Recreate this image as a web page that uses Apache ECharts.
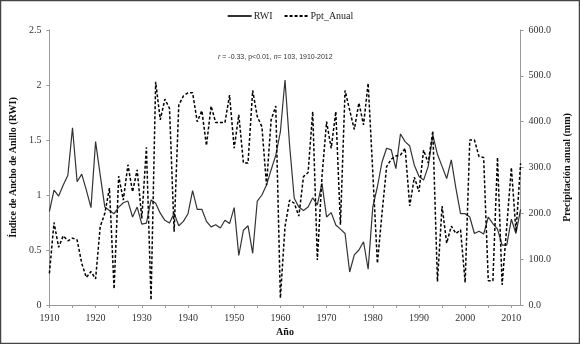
<!DOCTYPE html>
<html>
<head>
<meta charset="utf-8">
<script src="https://cdn.jsdelivr.net/npm/echarts@6/dist/echarts.min.js"></script>
<style>
  html, body { margin: 0; padding: 0; background: #fff; }
  #chart { width: 580px; height: 344px; }
</style>
</head>
<body>
<div id="chart"></div>
<script>
// years 1910-2012
var years = []
for (var y = 1910; y <= 2012; y++) years.push(y)

// indice de ancho de anillo (eje izq.)
var rwi = [
  0.85, 1.045, 0.99, 1.09, 1.18, 1.61, 1.12, 1.19, 1.045, 0.885,
  1.485, 1.18, 0.89, 0.86, 0.83, 0.89, 0.93, 0.945, 0.80, 0.89,
  0.735, 0.745, 0.955, 0.925, 0.835, 0.77, 0.745, 0.835, 0.72, 0.76,
  0.83, 1.04, 0.87, 0.87, 0.76, 0.71, 0.73, 0.70, 0.77, 0.74,
  0.885, 0.45, 0.68, 0.72, 0.47, 0.945, 1.0, 1.09, 1.23, 1.36,
  1.575, 2.045, 1.45, 0.97, 0.89, 0.86, 0.89, 0.975, 0.91, 1.105,
  0.80, 0.84, 0.727, 0.69, 0.65, 0.30, 0.455, 0.50, 0.575, 0.325,
  0.89, 1.075, 1.30, 1.425, 1.41, 1.24, 1.555, 1.485, 1.445, 1.27,
  1.17, 1.135, 1.26, 1.545, 1.37, 1.26, 1.15, 1.32, 1.06, 0.83,
  0.83, 0.80, 0.65, 0.67, 0.645, 0.80, 0.74, 0.69, 0.545, 0.545,
  0.78, 0.65, 0.87
]

// precipitacion anual en mm (eje der.)
var ppt = [
  69, 180, 126, 151, 140, 146, 142, 91, 60, 73,
  57, 171, 200, 255, 35, 281, 229, 306, 247, 295,
  189, 344, 11, 487, 404, 449, 429, 160, 436, 456,
  463, 463, 400, 424, 348, 434, 398, 398, 398, 458,
  342, 415, 310, 310, 468, 411, 389, 262, 404, 434,
  15, 171, 229, 222, 194, 280, 289, 422, 98, 280,
  400, 342, 422, 175, 468, 425, 383, 441, 393, 484,
  290, 91, 200, 302, 318, 325, 327, 342, 216, 279,
  247, 338, 310, 380, 51, 216, 135, 172, 156, 164,
  49, 360, 360, 324, 322, 53, 53, 322, 44, 171,
  300, 160, 309
]

var serif = 'Liberation Serif'
var myChart = echarts.init(document.getElementById('chart'))

var option = {
  backgroundColor: '#fff',
  animation: false,
  textStyle: { fontFamily: serif },
  grid: { left: 42, right: 51, top: 30, bottom: 39 },
  legend: {
    top: 6,
    left: 'center',
    itemWidth: 24,
    itemHeight: 8,
    itemGap: 11,
    itemStyle: { opacity: 0 },
    textStyle: { fontFamily: serif, fontSize: 10, color: '#222', padding: [0, 0, 0, -3] },
    data: ['RWI', 'Ppt_Anual']
  },
  graphic: [
    {
      type: 'rect',
      shape: { x: 0.5, y: 0.5, width: 579, height: 343 },
      style: { fill: 'none', stroke: '#444', lineWidth: 1.5 },
      silent: true
    },
    {
      type: 'text',
      left: 218,
      top: 54,
      style: {
        text: '{i|r} = -0.33, p<0.01, {i|n}= 103, 1910-2012',
        font: '7px "Liberation Sans"',
        fill: '#333',
        rich: {
          i: { fontStyle: 'italic', fontSize: 7, fontFamily: 'Liberation Sans', fill: '#333' }
        }
      }
    }
  ],
  xAxis: {
    type: 'value',
    min: 1910,
    max: 2012,
    interval: 5,
    name: 'Año',
    nameLocation: 'middle',
    nameGap: 22,
    nameTextStyle: { fontFamily: serif, fontSize: 10, fontWeight: 'bold', color: '#111' },
    axisLine: { lineStyle: { color: '#999' } },
    axisTick: { length: 3, lineStyle: { color: '#999' } },
    axisLabel: {
      fontSize: 10,
      color: '#333',
      showMaxLabel: false,
      formatter: function (v) { return v % 10 === 0 ? String(v) : '' }
    },
    splitLine: { show: false }
  },
  yAxis: [
    {
      type: 'value',
      min: 0,
      max: 2.5,
      interval: 0.5,
      name: 'Índice de Ancho de Anillo (RWI)',
      nameLocation: 'middle',
      nameGap: 29,
      nameRotate: 90,
      nameTextStyle: { fontFamily: serif, fontSize: 10, fontWeight: 'bold', color: '#111' },
      axisLine: { show: true, lineStyle: { color: '#999' } },
      axisTick: { show: true, length: 3, lineStyle: { color: '#999' } },
      axisLabel: { fontSize: 10, color: '#333', margin: 8 },
      splitLine: { show: false }
    },
    {
      type: 'value',
      min: 0,
      max: 600,
      interval: 100,
      name: 'Precipitación anual (mm)',
      nameLocation: 'middle',
      nameGap: 37,
      nameRotate: 90,
      nameTextStyle: { fontFamily: serif, fontSize: 10, fontWeight: 'bold', color: '#111' },
      axisLine: { show: true, lineStyle: { color: '#999' } },
      axisTick: { show: true, length: 3, lineStyle: { color: '#999' } },
      axisLabel: {
        fontSize: 10,
        color: '#333',
        margin: 8,
        formatter: function (v) { return v.toFixed(1) }
      },
      splitLine: { show: false }
    }
  ],
  series: [
    {
      name: 'RWI',
      type: 'line',
      yAxisIndex: 0,
      symbol: 'none',
      lineStyle: { color: '#333', width: 1.2 },
      itemStyle: { color: '#333' },
      data: years.map(function (y, i) { return [y, rwi[i]] })
    },
    {
      name: 'Ppt_Anual',
      type: 'line',
      yAxisIndex: 1,
      symbol: 'none',
      lineStyle: { color: '#000', width: 1.5, type: [3, 2] },
      itemStyle: { color: '#000' },
      data: years.map(function (y, i) { return [y, ppt[i]] })
    }
  ]
}

myChart.setOption(option)
</script>
</body>
</html>
